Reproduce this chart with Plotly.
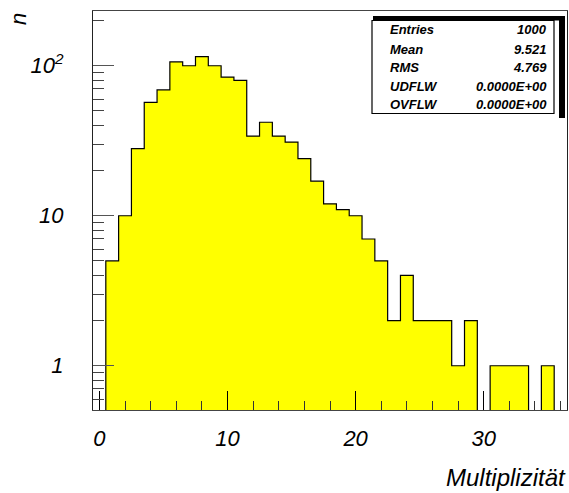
import plotly.graph_objects as go

# Multiplicity histogram (unit bins centred on integers)
multiplicity = list(range(0, 37))
counts = [0, 5, 10, 28, 57, 69, 106, 100, 115, 100, 84,
          80, 34, 42, 34, 31, 24, 17, 12, 11, 10,
          7, 5, 2, 4, 2, 2, 2, 1, 2, 0,
          1, 1, 1, 0, 1, 0]

stat_names = ["Entries", "Mean", "RMS", "UDFLW", "OVFLW"]
stat_values = ["1000", "9.521", "4.769", "0.0000E+00", "0.0000E+00"]

x_ticks = [0, 10, 20, 30]
y_ticks = [1, 10, 100]
y_ticktext = ["1", "10", "10<sup>2</sup>"]

W, H = 569, 493
L, R, T, B = 93, 2, 11, 83
FONT = "Liberation Sans"

# step outline; empty bins drop below the visible log range
floor = 0.1
xs, ys = [multiplicity[0] - 0.5], [floor]
for m, c in zip(multiplicity, counts):
    v = c if c > 0 else floor
    xs += [m - 0.5, m + 0.5]
    ys += [v, v]
xs.append(multiplicity[-1] + 0.5)
ys.append(floor)

fig = go.Figure()
fig.add_trace(go.Scatter(
    x=xs, y=ys, mode="lines", fill="toself",
    fillcolor="#ffff00", line=dict(color="black", width=1.2),
    hoverinfo="skip", showlegend=False,
))

minor_y = [v * d for d in (0.1, 1, 10, 100) for v in range(2, 10)]

fig.update_layout(
    width=W, height=H,
    margin=dict(l=L, r=R, t=T, b=B),
    paper_bgcolor="white", plot_bgcolor="white",
    font=dict(family=FONT, color="black"),
    showlegend=False,
    xaxis=dict(
        range=[-0.5, 36.5], showgrid=False, zeroline=False,
        showline=True, mirror=True, linecolor="#444", linewidth=1,
        tickmode="array", tickvals=x_ticks,
        ticks="inside", ticklen=19, tickcolor="black", tickwidth=1,
        minor=dict(dtick=2, tick0=0, ticks="inside", ticklen=9,
                   tickcolor="#333", showgrid=False),
        tickfont=dict(size=22, style="italic", family=FONT),
        ticklabelstandoff=9,
    ),
    yaxis=dict(
        type="log", range=[-0.295, 2.365], showgrid=False, zeroline=False,
        showline=True, mirror=True, linecolor="#222", linewidth=1,
        tickmode="array", tickvals=y_ticks, ticktext=y_ticktext,
        ticks="inside", ticklen=21, tickcolor="#555", tickwidth=1,
        minor=dict(tickmode="array", tickvals=minor_y, ticks="inside",
                   ticklen=11, tickcolor="#444", showgrid=False),
        tickfont=dict(size=22, style="italic", family=FONT),
        ticklabelstandoff=24,
    ),
)

pw, ph = W - L - R, H - T - B


def px(x):
    return (x - L) / pw


def py(y):
    return (H - B - y) / ph


# statistics box with its shadow bands
shapes = [
    dict(type="rect", xref="paper", yref="paper",
         x0=px(373), x1=px(565), y0=py(20.5), y1=py(16),
         fillcolor="black", line=dict(width=0), layer="above"),
    dict(type="rect", xref="paper", yref="paper",
         x0=px(559), x1=px(565), y0=py(118), y1=py(16),
         fillcolor="black", line=dict(width=0), layer="above"),
    dict(type="rect", xref="paper", yref="paper",
         x0=px(372), x1=px(554), y0=py(113.5), y1=py(20.5),
         fillcolor="white", line=dict(color="black", width=1.2), layer="above"),
]
fig.update_layout(shapes=shapes)

row_y = [29.5, 49, 67.5, 86, 104]
for name, val, ry in zip(stat_names, stat_values, row_y):
    fig.add_annotation(x=px(388), y=py(ry), xref="paper", yref="paper",
                       text=name, showarrow=False, xanchor="left", yanchor="middle",
                       font=dict(size=13, family=FONT, style="italic", weight="bold"))
    fig.add_annotation(x=px(549), y=py(ry), xref="paper", yref="paper",
                       text=val, showarrow=False, xanchor="right", yanchor="middle",
                       font=dict(size=13, family=FONT, style="italic", weight="bold"))

# axis titles
fig.add_annotation(x=px(568), y=py(477), xref="paper", yref="paper",
                   text="Multiplizität", showarrow=False,
                   xanchor="right", yanchor="middle",
                   font=dict(size=24, family=FONT, style="italic"))
fig.add_annotation(x=px(18), y=py(19), xref="paper", yref="paper",
                   text="n", showarrow=False, textangle=-90,
                   xanchor="center", yanchor="middle",
                   font=dict(size=22, family=FONT, style="italic"))

fig.write_html("out.html")
